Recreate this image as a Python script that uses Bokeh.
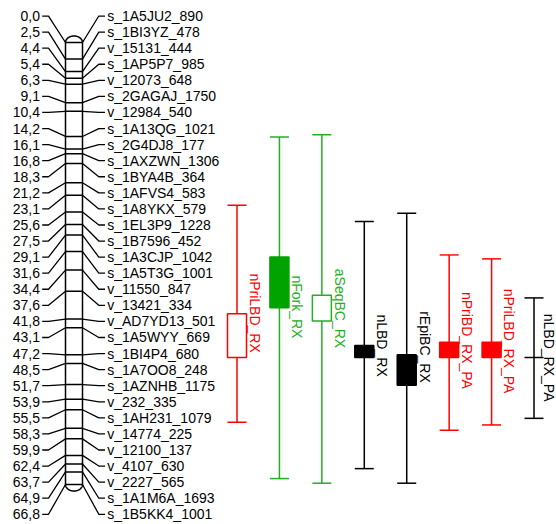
import numpy as np
from bokeh.plotting import figure
from bokeh.models import Range1d, ColumnDataSource
from bokeh.core.properties import value
from bokeh.embed import file_html
from bokeh.resources import INLINE

# ---------------- data ----------------
marker_cm = [0.0, 2.5, 4.4, 5.4, 6.3, 9.1, 10.4, 14.2, 16.1, 16.8, 18.3, 21.2, 23.1,
             25.6, 27.5, 29.1, 31.6, 34.4, 37.6, 41.8, 43.1, 47.2, 48.5, 51.7, 53.9,
             55.5, 58.3, 59.9, 62.4, 63.7, 64.9, 66.8]
marker_cm_labels = ["0,0", "2,5", "4,4", "5,4", "6,3", "9,1", "10,4", "14,2", "16,1",
                    "16,8", "18,3", "21,2", "23,1", "25,6", "27,5", "29,1", "31,6",
                    "34,4", "37,6", "41,8", "43,1", "47,2", "48,5", "51,7", "53,9",
                    "55,5", "58,3", "59,9", "62,4", "63,7", "64,9", "66,8"]
marker_names = ["s_1A5JU2_890", "s_1BI3YZ_478", "v_15131_444", "s_1AP5P7_985",
                "v_12073_648", "s_2GAGAJ_1750", "v_12984_540", "s_1A13QG_1021",
                "s_2G4DJ8_177", "s_1AXZWN_1306", "s_1BYA4B_364", "s_1AFVS4_583",
                "s_1A8YKX_579", "s_1EL3P9_1228", "s_1B7596_452", "s_1A3CJP_1042",
                "s_1A5T3G_1001", "v_11550_847", "v_13421_334", "v_AD7YD13_501",
                "s_1A5WYY_669", "s_1BI4P4_680", "s_1A7OO8_248", "s_1AZNHB_1175",
                "v_232_335", "s_1AH231_1079", "v_14774_225", "v_12100_137",
                "v_4107_630", "v_2227_565", "s_1A1M6A_1693", "s_1B5KK4_1001"]

qtl_names = ["nPriLBD_RX", "nFork_RX", "aSeqBC_RX", "nLBD_RX", "rEpiBC_RX",
             "nPriBD_RX_PA", "nPriLBD_RX_PA", "nLBD_RX_PA"]
qtl_start = [24.6, 14.3, 13.95, 27.05, 25.8, 32.1, 32.7, 38.6]
qtl_end = [57.4, 65.9, 66.6, 64.4, 66.6, 58.6, 57.8, 56.8]
qtl_inner_start = [41.0, 32.4, 38.2, 45.8, 47.2, 45.3, 45.3, 47.6]
qtl_inner_end = [47.6, 40.1, 42.1, 47.6, 51.8, 47.6, 47.6, 47.6]
qtl_filled = [False, True, False, True, True, True, True, True]
qtl_group = ["red", "green", "green", "black", "black", "red", "red", "black"]

# ---------------- styles / layout ----------------
W, H = 556, 524
TOP_PX, PX_PER_CM = 42.0, 6.617
y_top = -TOP_PX / PX_PER_CM
y_bot = (H - TOP_PX) / PX_PER_CM

line_col = {"red": "#FF0000", "green": "#22B022", "black": "#000000"}
fill_col = {"red": "#FF0000", "green": "#00A300", "black": "#000000"}

CH_L, CH_R = 65.0, 82.0
CAP_CM = 6.5 / PX_PER_CM
lab_first, lab_last = -4.0, 71.3
n = len(marker_cm)
label_y = [lab_first + i * (lab_last - lab_first) / (n - 1) for i in range(n)]

qtl_x0, qtl_dx = 236.5, 42.43
qtl_half = 9.5
qtl_text_off = [18.0, 18.0, 18.0, 18.0, 18.0, 17.5, 17.5, 15.0]
qtl_text_start_cm = [34.9, 35.2, 34.2, 41.1, 40.6, 37.7, 37.2, 41.0]

p = figure(width=W, height=H, x_range=Range1d(0, W), y_range=Range1d(y_bot, y_top),
           output_backend="svg", toolbar_location=None, min_border=0,
           x_axis_type=None, y_axis_type=None, outline_line_color=None,
           background_fill_color="white", border_fill_color="white")
p.grid.visible = False

FONT = value("Liberation Sans")
FS = "14px"
LW = 1.5

# chromosome outline
p.segment(x0=[CH_L, CH_R], y0=[marker_cm[0]] * 2, x1=[CH_L, CH_R], y1=[marker_cm[-1]] * 2,
          line_color="black", line_width=LW)
th = np.linspace(0, np.pi, 60)
cx, rx = (CH_L + CH_R) / 2, (CH_R - CH_L) / 2
p.line(cx + rx * np.cos(th), marker_cm[0] - CAP_CM * np.sin(th), line_color="black", line_width=LW)
p.line(cx + rx * np.cos(th), marker_cm[-1] + CAP_CM * np.sin(th), line_color="black", line_width=LW)
# marker lines across chromosome
p.segment(x0=[CH_L] * n, y0=marker_cm, x1=[CH_R] * n, y1=marker_cm,
          line_color="black", line_width=LW)

# connectors
lx = [[41.7, 48.0, CH_L] for _ in range(n)]
ly = [[label_y[i], label_y[i], marker_cm[i]] for i in range(n)]
p.multi_line(lx, ly, line_color="black", line_width=1.3)
rxs = [[CH_R, 98.3, 104.5] for _ in range(n)]
rys = [[marker_cm[i], label_y[i], label_y[i]] for i in range(n)]
p.multi_line(rxs, rys, line_color="black", line_width=1.3)

p.text(x=[39.5] * n, y=label_y, text=marker_cm_labels, text_align="right",
       text_baseline="middle", text_font=FONT, text_font_size=FS, text_color="black")
p.text(x=[106.7] * n, y=label_y, text=marker_names, text_align="left",
       text_baseline="middle", text_font=FONT, text_font_size=FS, text_color="black")

# QTLs
m = len(qtl_names)
qx = [qtl_x0 + qtl_dx * k for k in range(m)]
lc = [line_col[g] for g in qtl_group]
fc = [fill_col[g] if f else "white" for g, f in zip(qtl_group, qtl_filled)]
bc = [fill_col[g] if f else line_col[g] for g, f in zip(qtl_group, qtl_filled)]

src = ColumnDataSource(dict(x=qx, s=qtl_start, e=qtl_end, bs=qtl_inner_start,
                            be=qtl_inner_end,
                            xl=[x - qtl_half for x in qx], xr=[x + qtl_half for x in qx],
                            lc=lc, fc=fc, bc=bc, name=qtl_names,
                            tx=[x + o for x, o in zip(qx, qtl_text_off)],
                            ty=qtl_text_start_cm))
p.segment(x0="x", y0="s", x1="x", y1="e", source=src, line_color="lc", line_width=LW)
p.segment(x0="xl", y0="s", x1="xr", y1="s", source=src, line_color="lc", line_width=LW)
p.segment(x0="xl", y0="e", x1="xr", y1="e", source=src, line_color="lc", line_width=LW)
p.quad(left="xl", right="xr", top="bs", bottom="be", source=src,
       fill_color="fc", line_color="bc", line_width=LW)
p.text(x="tx", y="ty", text="name", source=src, angle=-np.pi / 2,
       text_align="left", text_baseline="middle", text_font=FONT,
       text_font_size=FS, text_color="lc")

html = file_html(p, INLINE)
html = html.replace("<head>", "<head><style>html,body{margin:0;padding:0;overflow:hidden;}</style>", 1)
open("out.html", "w").write(html)
